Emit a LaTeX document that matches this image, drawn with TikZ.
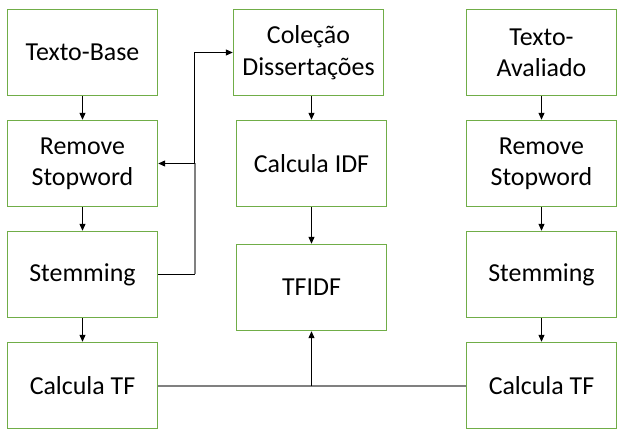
\documentclass[tikz,border=0pt]{standalone}
\usepackage{fontspec}
\setmainfont{Carlito}
\usetikzlibrary{arrows.meta,calc}
\definecolor{boxgreen}{HTML}{70AD47}
\definecolor{linegray}{HTML}{808080}
\begin{document}
\begin{tikzpicture}[x=1bp,y=-1bp,
  stepbox/.style={draw=boxgreen,line width=1.4bp,minimum width=150bp,minimum height=86bp,
    align=center,inner sep=2pt,font=\fontsize{26}{31.5}\selectfont},
  arr/.style={draw=black,line width=1bp,-{Triangle[length=7bp,width=6bp]}},
  grayline/.style={draw=linegray,line width=2bp}]
\useasboundingbox (0,0) rectangle (624,439);
% left column
\node[stepbox] (tb) at (82.5,52.5) {Texto-Base};
\node[stepbox] (rs1) at (82.5,163.5) {Remove\\Stopword};
\node[stepbox] (st1) at (82.5,274.5) {Stemming};
\node[stepbox] (tf1) at (82.5,385.5) {Calcula TF};
% middle column
\node[stepbox] (col) at (308.5,52.5) {Coleção\\Dissertações};
\node[stepbox] (idf) at (311.5,163.5) {Calcula IDF};
\node[stepbox] (tfidf) at (311.5,287.5) {TFIDF};
% right column
\node[stepbox] (ta) at (541.5,52.5) {Texto-\\Avaliado};
\node[stepbox] (rs2) at (541.5,163.5) {Remove\\Stopword};
\node[stepbox] (st2) at (541.5,274.5) {Stemming};
\node[stepbox] (tf2) at (541.5,385.5) {Calcula TF};
% vertical arrows
\draw[arr] (tb) -- (rs1);
\draw[arr] (rs1) -- (st1);
\draw[arr] (st1) -- (tf1);
\draw[arr] (idf.north |- col.south) -- (idf.north);
\draw[arr] (idf) -- (tfidf);
\draw[arr] (ta) -- (rs2);
\draw[arr] (rs2) -- (st2);
\draw[arr] (st2) -- (tf2);
% stemming to collection / remove stopword
\coordinate (jn) at (194.5,163.5);
\coordinate (jb) at (194.5,274.5);
\coordinate (jt) at (194.5,52.5);
\draw[line width=1bp] (st1.east) -- (jb);
\draw[grayline] (jb) -- (jn);
\draw[arr] (jn) -- (jt) -- (col.west);
\draw[arr] (jn) -- (rs1.east);
% bottom TF connection
\coordinate (le) at ($(tf1.east)+(0,0.5)$);
\coordinate (re) at ($(tf2.west)+(0,0.5)$);
\coordinate (mid) at (tfidf.south |- le);
\draw[grayline] (le) -- (re);
\draw[arr] (mid) -- (tfidf.south);
\end{tikzpicture}
\end{document}
